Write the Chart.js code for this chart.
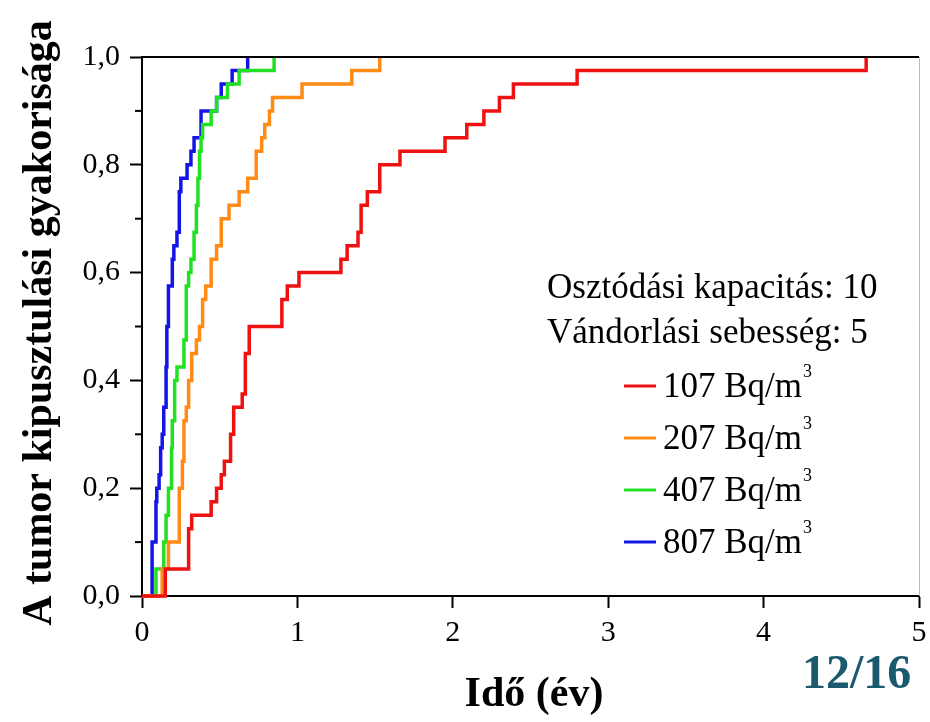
<!DOCTYPE html>
<html>
<head>
<meta charset="utf-8">
<script src="https://cdn.jsdelivr.net/npm/chart.js@4.4.1/dist/chart.umd.min.js"></script>
<style>
  html, body { margin: 0; padding: 0; background: #fff; }
  #wrap { width: 930px; height: 722px; }
</style>
</head>
<body>
<div id="wrap"><canvas id="chart"></canvas></div>
<script>
// step points: time (év) where the cumulative frequency jumps, and the new level
const red_t    = [0, 0.15, 0.30, 0.32, 0.445, 0.48, 0.51, 0.53, 0.57, 0.59, 0.645, 0.665, 0.69, 0.90, 0.935, 1.01, 1.28, 1.32, 1.39, 1.41, 1.45, 1.53, 1.66, 1.95, 2.09, 2.20, 2.30, 2.39, 2.80, 4.66];
const red_p    = [0, 0.05, 0.125, 0.15, 0.175, 0.2, 0.225, 0.25, 0.3, 0.35, 0.375, 0.45, 0.5, 0.55, 0.575, 0.6, 0.625, 0.65, 0.675, 0.725, 0.75, 0.8, 0.825, 0.85, 0.875, 0.9, 0.925, 0.95, 0.975, 1.0];
const orange_t = [0, 0.13, 0.17, 0.24, 0.26, 0.27, 0.285, 0.30, 0.32, 0.35, 0.37, 0.39, 0.41, 0.445, 0.48, 0.51, 0.56, 0.625, 0.68, 0.735, 0.77, 0.79, 0.82, 0.84, 1.03, 1.35, 1.53];
const orange_p = [0, 0.05, 0.1, 0.2, 0.25, 0.325, 0.35, 0.4, 0.45, 0.475, 0.5, 0.55, 0.575, 0.625, 0.65, 0.7, 0.725, 0.75, 0.775, 0.825, 0.85, 0.875, 0.9, 0.925, 0.95, 0.975, 1.0];
const green_t  = [0, 0.09, 0.14, 0.155, 0.17, 0.19, 0.195, 0.21, 0.225, 0.27, 0.285, 0.30, 0.315, 0.335, 0.35, 0.36, 0.37, 0.38, 0.39, 0.445, 0.48, 0.55, 0.625, 0.85];
const green_p  = [0, 0.05, 0.1, 0.15, 0.2, 0.275, 0.325, 0.4, 0.425, 0.475, 0.575, 0.6, 0.625, 0.675, 0.725, 0.775, 0.825, 0.85, 0.875, 0.9, 0.925, 0.95, 0.975, 1.0];
const blue_t   = [0, 0.065, 0.09, 0.095, 0.11, 0.12, 0.13, 0.14, 0.155, 0.16, 0.17, 0.195, 0.205, 0.225, 0.24, 0.25, 0.29, 0.315, 0.335, 0.38, 0.48, 0.51, 0.58, 0.68];
const blue_p   = [0, 0.1, 0.175, 0.2, 0.225, 0.275, 0.3, 0.35, 0.425, 0.5, 0.575, 0.625, 0.65, 0.675, 0.75, 0.775, 0.8, 0.825, 0.85, 0.9, 0.925, 0.95, 0.975, 1.0];

const seriesLabels = ['107 Bq/m', '207 Bq/m', '407 Bq/m', '807 Bq/m'];
const infoLines = ['Osztódási kapacitás: 10', 'Vándorlási sebesség: 5'];
const xTitle = 'Idő (év)';
const yTitle = 'A tumor kipusztulási gyakorisága';
const pageNo = '12/16';

const colors = ['#ee1111', '#ff8a14', '#22e022', '#1414e6'];
const SERIF = '"Liberation Serif", "Times New Roman", serif';

function pts(t, p) {
  return t.map((v, i) => ({ x: v, y: p[i] }));
}

const dataSets = [pts(red_t, red_p), pts(orange_t, orange_p), pts(green_t, green_p), pts(blue_t, blue_p)];

// frame, minor ticks, titles and the text legend
const decor = {
  id: 'decor',
  afterDraw(chart) {
    const ctx = chart.ctx;
    const a = chart.chartArea;
    const ys = chart.scales.y;
    ctx.save();
    // top frame line
    ctx.strokeStyle = '#000';
    ctx.lineWidth = 2;
    ctx.beginPath();
    ctx.moveTo(a.left - 1, a.top);
    ctx.lineTo(a.right, a.top);
    ctx.stroke();
    ctx.strokeStyle = '#bbbbbb';
    ctx.lineWidth = 1;
    ctx.beginPath();
    ctx.moveTo(a.right + 0.5, a.top);
    ctx.lineTo(a.right + 0.5, a.bottom);
    ctx.stroke();
    // minor ticks on y
    ctx.strokeStyle = '#000';
    ctx.lineWidth = 2;
    [0.1, 0.3, 0.5, 0.7, 0.9].forEach(v => {
      const py = ys.getPixelForValue(v);
      ctx.beginPath();
      ctx.moveTo(a.left - 7, py);
      ctx.lineTo(a.left, py);
      ctx.stroke();
    });

    ctx.fillStyle = '#000';
    // axis titles
    ctx.font = 'bold 42px ' + SERIF;
    ctx.textAlign = 'center';
    ctx.textBaseline = 'alphabetic';
    ctx.fillText(xTitle, 534, 706);
    ctx.save();
    ctx.translate(51, 323);
    ctx.rotate(-Math.PI / 2);
    ctx.fillText(yTitle, 0, 0);
    ctx.restore();

    // info text + legend
    ctx.textAlign = 'left';
    ctx.font = '35px ' + SERIF;
    infoLines.forEach((s, i) => ctx.fillText(s, 547, 298 + i * 45));
    chart.data.datasets.forEach((ds, i) => {
      const by = 397 + i * 52;
      ctx.strokeStyle = ds.borderColor;
      ctx.lineWidth = 3;
      ctx.beginPath();
      ctx.moveTo(624, by - 11);
      ctx.lineTo(656, by - 11);
      ctx.stroke();
      ctx.font = '35px ' + SERIF;
      ctx.fillText(ds.label, 663, by);
      const w = ctx.measureText(ds.label).width;
      ctx.font = '18px ' + SERIF;
      ctx.fillText('3', 663 + w + 1, by - 20);
    });

    // slide page number
    ctx.fillStyle = '#1b5a6c';
    ctx.font = 'bold 48px ' + SERIF;
    ctx.fillText(pageNo, 802, 688);
    ctx.restore();
  }
};

new Chart(document.getElementById('chart'), {
  type: 'line',
  data: {
    datasets: dataSets.map((d, i) => ({
      label: seriesLabels[i],
      data: d,
      borderColor: colors[i],
      backgroundColor: colors[i],
      borderWidth: 3.5,
      pointRadius: 0,
      stepped: true,
      fill: false,
      clip: 4
    }))
  },
  options: {
    responsive: true,
    maintainAspectRatio: false,
    animation: false,
    devicePixelRatio: 1,
    layout: { padding: { top: 57, right: 11, bottom: 0, left: 0 } },
    plugins: { legend: { display: false }, tooltip: { enabled: false } },
    scales: {
      x: {
        type: 'linear',
        min: 0,
        max: 5,
        ticks: { stepSize: 1, color: '#000', font: { family: SERIF, size: 30 }, padding: 7 },
        grid: { drawOnChartArea: false, tickLength: 12, tickColor: '#000', tickWidth: 2 },
        border: { color: '#000', width: 2 },
        afterFit(s) { s.height = 126; s.paddingLeft = 0; s.paddingRight = 0; }
      },
      y: {
        min: 0,
        max: 1,
        ticks: {
          stepSize: 0.2,
          color: '#000',
          font: { family: SERIF, size: 30 },
          padding: 10,
          callback: v => v.toFixed(1).replace('.', ',')
        },
        grid: { drawOnChartArea: false, tickLength: 12, tickColor: '#000', tickWidth: 2 },
        border: { color: '#000', width: 2 },
        afterFit(s) { s.width = 142; }
      }
    }
  },
  plugins: [decor]
});
</script>
</body>
</html>
